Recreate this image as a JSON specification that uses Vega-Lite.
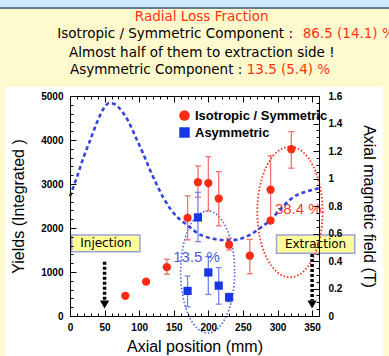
{
  "$schema": "https://vega.github.io/schema/vega-lite/v6.json",
  "width": 249,
  "height": 220,
  "autosize": {"type": "none"},
  "padding": {"left": 70, "top": 96, "right": 70, "bottom": 40},
  "background": "#fffacd",
  "config": {
    "view": {"stroke": null},
    "axis": {
      "domainColor": "#000", "tickColor": "#000", "labelColor": "#000", "titleColor": "#000",
      "labelFont": "Liberation Sans", "labelFontWeight": "bold", "labelFontSize": 10,
      "titleFont": "Liberation Sans", "titleFontWeight": "normal", "titleFontSize": 16,
      "grid": false, "tickWidth": 1, "domainWidth": 1
    }
  },
  "datasets": {
    "points": [
      {"comp": "Isotropic / Symmetric", "pos": 80, "yield": 460},
      {"comp": "Isotropic / Symmetric", "pos": 110, "yield": 780},
      {"comp": "Isotropic / Symmetric", "pos": 140, "yield": 1110, "lo": 950, "hi": 1290},
      {"comp": "Isotropic / Symmetric", "pos": 170, "yield": 2230, "lo": 1730, "hi": 2730},
      {"comp": "Isotropic / Symmetric", "pos": 185, "yield": 3040, "lo": 2700, "hi": 3410},
      {"comp": "Isotropic / Symmetric", "pos": 200, "yield": 3020, "lo": 2390, "hi": 3620},
      {"comp": "Isotropic / Symmetric", "pos": 215, "yield": 2670, "lo": 2050, "hi": 3280},
      {"comp": "Isotropic / Symmetric", "pos": 230, "yield": 1620, "lo": 1500, "hi": 1770},
      {"comp": "Isotropic / Symmetric", "pos": 260, "yield": 1370, "lo": 960, "hi": 1740},
      {"comp": "Isotropic / Symmetric", "pos": 290, "yield": 2170},
      {"comp": "Isotropic / Symmetric", "pos": 290, "yield": 2870, "lo": 2200, "hi": 3640},
      {"comp": "Isotropic / Symmetric", "pos": 320, "yield": 3790, "lo": 3360, "hi": 4190},
      {"comp": "Asymmetric", "pos": 170, "yield": 570, "lo": 210, "hi": 910},
      {"comp": "Asymmetric", "pos": 185, "yield": 2240, "lo": 1690, "hi": 2810},
      {"comp": "Asymmetric", "pos": 200, "yield": 990, "lo": 490, "hi": 1350},
      {"comp": "Asymmetric", "pos": 215, "yield": 690, "lo": 270, "hi": 1100},
      {"comp": "Asymmetric", "pos": 230, "yield": 425, "lo": 325, "hi": 515}
    ],
    "field": [
      {"pos": 0, "tesla": 0.87}, {"pos": 10, "tesla": 1.01}, {"pos": 20, "tesla": 1.16},
      {"pos": 30, "tesla": 1.29}, {"pos": 40, "tesla": 1.42}, {"pos": 50, "tesla": 1.52},
      {"pos": 57, "tesla": 1.55}, {"pos": 65, "tesla": 1.54}, {"pos": 75, "tesla": 1.49},
      {"pos": 85, "tesla": 1.41}, {"pos": 95, "tesla": 1.3}, {"pos": 105, "tesla": 1.19},
      {"pos": 115, "tesla": 1.07}, {"pos": 125, "tesla": 0.96}, {"pos": 135, "tesla": 0.86},
      {"pos": 145, "tesla": 0.78}, {"pos": 155, "tesla": 0.72}, {"pos": 170, "tesla": 0.66},
      {"pos": 185, "tesla": 0.6}, {"pos": 200, "tesla": 0.57}, {"pos": 215, "tesla": 0.555},
      {"pos": 230, "tesla": 0.55}, {"pos": 245, "tesla": 0.56}, {"pos": 260, "tesla": 0.59},
      {"pos": 275, "tesla": 0.64}, {"pos": 290, "tesla": 0.7}, {"pos": 305, "tesla": 0.78},
      {"pos": 318, "tesla": 0.845}, {"pos": 330, "tesla": 0.885}, {"pos": 342, "tesla": 0.905},
      {"pos": 360, "tesla": 0.93}
    ],
    "one": [{}]
  },
  "layer": [
    {
      "data": {"name": "one"},
      "layer": [
        {
          "mark": {"type": "rect", "fill": "#ffffff"},
          "encoding": {
            "x": {"datum": -94, "type": "quantitative", "scale": {"domain": [0, 360], "nice": false, "zero": false}, "axis": null},
            "x2": {"datum": 453},
            "y": {"datum": 5205, "type": "quantitative", "scale": {"domain": [0, 5000], "nice": false, "zero": false}, "axis": null},
            "y2": {"datum": -1300}
          }
        },
        {
          "mark": {"type": "rect", "fill": "#cde8fa"},
          "encoding": {
            "x": {"datum": -120, "type": "quantitative", "axis": null},
            "x2": {"datum": 480},
            "y": {"datum": 7023, "type": "quantitative", "axis": null},
            "y2": {"datum": 7500}
          }
        },
        {
          "mark": {"type": "rect", "fill": "#6b7888"},
          "encoding": {
            "x": {"datum": -120, "type": "quantitative", "axis": null},
            "x2": {"datum": 480},
            "y": {"datum": 6977, "type": "quantitative", "axis": null},
            "y2": {"datum": 7023}
          }
        },
        {
          "mark": {"type": "rect", "fill": "#ffff99", "stroke": "#9aa2dc", "strokeWidth": 1.5},
          "encoding": {
            "x": {"datum": 2.5, "type": "quantitative", "axis": null},
            "x2": {"datum": 101},
            "y": {"datum": 1461, "type": "quantitative", "axis": null},
            "y2": {"datum": 1841}
          }
        },
        {
          "mark": {"type": "rect", "fill": "#ffff99", "stroke": "#9aa2dc", "strokeWidth": 1.5},
          "encoding": {
            "x": {"datum": 298.6, "type": "quantitative", "axis": null},
            "x2": {"datum": 411.7},
            "y": {"datum": 1425, "type": "quantitative", "axis": null},
            "y2": {"datum": 1841}
          }
        },
        {
          "mark": {"type": "text", "font": "DejaVu Sans", "fontSize": 12, "color": "#000", "align": "center", "baseline": "middle"},
          "encoding": {
            "x": {"datum": 52, "type": "quantitative", "axis": null},
            "y": {"datum": 1655, "type": "quantitative", "axis": null},
            "text": {"value": "Injection"}
          }
        },
        {
          "mark": {"type": "text", "font": "DejaVu Sans", "fontSize": 12, "color": "#000", "align": "center", "baseline": "middle"},
          "encoding": {
            "x": {"datum": 355, "type": "quantitative", "axis": null},
            "y": {"datum": 1630, "type": "quantitative", "axis": null},
            "text": {"value": "Extraction"}
          }
        },
        {
          "mark": {"type": "point", "filled": false, "color": "#4a62e0", "strokeWidth": 1.6, "strokeDash": [1.5, 2], "opacity": 1, "size": 14884,
            "shape": "M 0.443 0 C 0.443 0.5523 0.2446 1 0 1 C -0.2446 1 -0.443 0.5523 -0.443 0 C -0.443 -0.5523 -0.2446 -1 0 -1 C 0.2446 -1 0.443 -0.5523 0.443 0 Z"},
          "encoding": {
            "x": {"datum": 199, "type": "quantitative", "axis": null},
            "y": {"datum": 1000, "type": "quantitative", "axis": null}
          }
        },
        {
          "mark": {"type": "point", "filled": false, "color": "#ff2a14", "strokeWidth": 1.8, "strokeDash": [1.5, 2], "opacity": 1, "size": 17056,
            "shape": "M 0.5 0 C 0.5 0.5523 0.2762 1 0 1 C -0.2762 1 -0.5 0.5523 -0.5 0 C -0.5 -0.5523 -0.2762 -1 0 -1 C 0.2762 -1 0.5 -0.5523 0.5 0 Z"},
          "encoding": {
            "x": {"datum": 318, "type": "quantitative", "axis": null},
            "y": {"datum": 2364, "type": "quantitative", "axis": null}
          }
        },
        {
          "data": {"name": "points"},
          "transform": [{"filter": "isValid(datum.lo) && datum.comp == 'Isotropic / Symmetric'"}],
          "mark": {"type": "rule", "strokeWidth": 1.3, "color": "#f27272"},
          "encoding": {
            "x": {"field": "pos", "type": "quantitative", "axis": null},
            "y": {"field": "lo", "type": "quantitative", "axis": null},
            "y2": {"field": "hi"}
          }
        },
        {
          "data": {"name": "points"},
          "transform": [{"filter": "isValid(datum.lo) && datum.comp == 'Isotropic / Symmetric'"}],
          "mark": {"type": "tick", "orient": "horizontal", "size": 6, "thickness": 1.3, "color": "#f27272", "opacity": 1},
          "encoding": {
            "x": {"field": "pos", "type": "quantitative", "axis": null},
            "y": {"field": "lo", "type": "quantitative", "axis": null}
          }
        },
        {
          "data": {"name": "points"},
          "transform": [{"filter": "isValid(datum.hi) && datum.comp == 'Isotropic / Symmetric'"}],
          "mark": {"type": "tick", "orient": "horizontal", "size": 6, "thickness": 1.3, "color": "#f27272", "opacity": 1},
          "encoding": {
            "x": {"field": "pos", "type": "quantitative", "axis": null},
            "y": {"field": "hi", "type": "quantitative", "axis": null}
          }
        },
        {
          "data": {"name": "points"},
          "transform": [{"filter": "isValid(datum.lo) && datum.comp == 'Asymmetric'"}],
          "mark": {"type": "rule", "strokeWidth": 1.3, "color": "#7486ec"},
          "encoding": {
            "x": {"field": "pos", "type": "quantitative", "axis": null},
            "y": {"field": "lo", "type": "quantitative", "axis": null},
            "y2": {"field": "hi"}
          }
        },
        {
          "data": {"name": "points"},
          "transform": [{"filter": "isValid(datum.lo) && datum.comp == 'Asymmetric'"}],
          "mark": {"type": "tick", "orient": "horizontal", "size": 6, "thickness": 1.3, "color": "#7486ec", "opacity": 1},
          "encoding": {
            "x": {"field": "pos", "type": "quantitative", "axis": null},
            "y": {"field": "lo", "type": "quantitative", "axis": null}
          }
        },
        {
          "data": {"name": "points"},
          "transform": [{"filter": "isValid(datum.hi) && datum.comp == 'Asymmetric'"}],
          "mark": {"type": "tick", "orient": "horizontal", "size": 6, "thickness": 1.3, "color": "#7486ec", "opacity": 1},
          "encoding": {
            "x": {"field": "pos", "type": "quantitative", "axis": null},
            "y": {"field": "hi", "type": "quantitative", "axis": null}
          }
        },
        {
          "mark": {"type": "text", "font": "Liberation Sans", "fontSize": 15, "color": "#4a5ad8", "align": "center", "baseline": "middle"},
          "encoding": {
            "x": {"datum": 183, "type": "quantitative", "axis": null},
            "y": {"datum": 1348, "type": "quantitative", "axis": null},
            "text": {"value": "13.5 %"}
          }
        },
        {
          "mark": {"type": "text", "font": "Liberation Sans", "fontSize": 15, "color": "#ff3a28", "align": "center", "baseline": "middle"},
          "encoding": {
            "x": {"datum": 330, "type": "quantitative", "axis": null},
            "y": {"datum": 2432, "type": "quantitative", "axis": null},
            "text": {"value": "38.4 %"}
          }
        },
        {
          "mark": {"type": "text", "font": "DejaVu Sans", "fontSize": 13.5, "color": "#ff3311", "align": "center", "baseline": "middle"},
          "encoding": {
            "x": {"datum": 190.4, "type": "quantitative", "axis": null},
            "y": {"datum": 6795, "type": "quantitative", "axis": null},
            "text": {"value": "Radial Loss Fraction"}
          }
        },
        {
          "mark": {"type": "text", "font": "DejaVu Sans", "fontSize": 13.5, "color": "#000", "align": "right", "baseline": "middle"},
          "encoding": {
            "x": {"datum": 322.4, "type": "quantitative", "axis": null},
            "y": {"datum": 6402, "type": "quantitative", "axis": null},
            "text": {"value": "Isotropic / Symmetric Component :"}
          }
        },
        {
          "mark": {"type": "text", "font": "DejaVu Sans", "fontSize": 13.5, "color": "#ff3311", "align": "left", "baseline": "middle"},
          "encoding": {
            "x": {"datum": 336.4, "type": "quantitative", "axis": null},
            "y": {"datum": 6402, "type": "quantitative", "axis": null},
            "text": {"value": "86.5 (14.1) %"}
          }
        },
        {
          "mark": {"type": "text", "font": "DejaVu Sans", "fontSize": 13.5, "color": "#000", "align": "center", "baseline": "middle"},
          "encoding": {
            "x": {"datum": 190.6, "type": "quantitative", "axis": null},
            "y": {"datum": 5970, "type": "quantitative", "axis": null},
            "text": {"value": "Almost half of them to extraction side !"}
          }
        },
        {
          "mark": {"type": "text", "font": "DejaVu Sans", "fontSize": 13.5, "color": "#000", "align": "right", "baseline": "middle"},
          "encoding": {
            "x": {"datum": 249.1, "type": "quantitative", "axis": null},
            "y": {"datum": 5591, "type": "quantitative", "axis": null},
            "text": {"value": "Asymmetric Component :"}
          }
        },
        {
          "mark": {"type": "text", "font": "DejaVu Sans", "fontSize": 13.5, "color": "#ff3311", "align": "left", "baseline": "middle"},
          "encoding": {
            "x": {"datum": 255.5, "type": "quantitative", "axis": null},
            "y": {"datum": 5591, "type": "quantitative", "axis": null},
            "text": {"value": "13.5 (5.4) %"}
          }
        }
      ]
    },
    {
      "data": {"name": "field"},
      "mark": {"type": "line", "color": "#3444e0", "strokeWidth": 2.6, "strokeDash": [4, 3], "interpolate": "monotone"},
      "encoding": {
        "x": {"field": "pos", "type": "quantitative",
          "scale": {"domain": [0, 360], "nice": false, "zero": false},
          "axis": {"orient": "top", "zindex": 1, "values": [0, 50, 100, 150, 200, 250, 300, 350], "tickSize": -6, "labels": false, "title": null}},
        "y": {"field": "tesla", "type": "quantitative",
          "scale": {"domain": [0, 1.6], "nice": false, "zero": false},
          "axis": {"orient": "right", "zindex": 1, "values": [0, 0.2, 0.4, 0.6, 0.8, 1, 1.2, 1.4, 1.6], "format": "~g", "tickSize": -6, "labelPadding": 15, "labelOverlap": false, "title": "Axial magnetic field (T)", "titlePadding": 19}}
      }
    },
    {
      "data": {"name": "points"},
      "mark": {"type": "point", "filled": true, "opacity": 1, "size": 68},
      "encoding": {
        "x": {"field": "pos", "type": "quantitative",
          "scale": {"domain": [0, 360], "nice": false, "zero": false},
          "axis": {"orient": "bottom", "zindex": 1, "values": [0, 50, 100, 150, 200, 250, 300, 350], "format": "d", "tickSize": -6, "labelPadding": 12, "labelFlush": false, "labelOverlap": false, "title": "Axial position (mm)", "titlePadding": 6}},
        "y": {"field": "yield", "type": "quantitative",
          "scale": {"domain": [0, 5000], "nice": false, "zero": false},
          "axis": {"orient": "left", "zindex": 1, "values": [0, 1000, 2000, 3000, 4000, 5000], "format": "d", "tickSize": -6, "labelPadding": 13, "labelOverlap": false, "title": "Yields (Integrated )", "titlePadding": 14}},
        "color": {"field": "comp", "type": "nominal",
          "scale": {"domain": ["Isotropic / Symmetric", "Asymmetric"], "range": ["#ff2a14", "#1836e6"]},
          "legend": {"orient": "none", "legendX": 108, "legendY": 13, "zindex": 2, "title": null, "padding": 0, "labelFont": "Liberation Sans", "labelFontWeight": "bold", "labelFontSize": 13, "labelColor": "#000", "symbolSize": 110, "rowPadding": 3, "labelOffset": 4}},
        "shape": {"field": "comp", "type": "nominal",
          "scale": {"domain": ["Isotropic / Symmetric", "Asymmetric"], "range": ["circle", "square"]},
          "legend": {"orient": "none", "legendX": 108, "legendY": 13, "zindex": 2, "title": null, "padding": 0, "labelFont": "Liberation Sans", "labelFontWeight": "bold", "labelFontSize": 13, "labelColor": "#000", "symbolSize": 110, "rowPadding": 3, "labelOffset": 4}}
      }
    },
    {
      "data": {"name": "one"},
      "mark": {"type": "rule", "color": "#000", "strokeWidth": 3.5, "strokeDash": [3, 2]},
      "encoding": {
        "x": {"datum": 50, "type": "quantitative",
          "scale": {"domain": [0, 360], "nice": false, "zero": false},
          "axis": {"orient": "bottom", "zindex": 1, "values": [0, 10, 20, 30, 40, 50, 60, 70, 80, 90, 100, 110, 120, 130, 140, 150, 160, 170, 180, 190, 200, 210, 220, 230, 240, 250, 260, 270, 280, 290, 300, 310, 320, 330, 340, 350, 360], "tickSize": -3, "labels": false, "domain": false, "title": null}},
        "y": {"datum": 1234, "type": "quantitative",
          "scale": {"domain": [0, 5000], "nice": false, "zero": false},
          "axis": {"orient": "left", "zindex": 1, "values": [0, 200, 400, 600, 800, 1000, 1200, 1400, 1600, 1800, 2000, 2200, 2400, 2600, 2800, 3000, 3200, 3400, 3600, 3800, 4000, 4200, 4400, 4600, 4800, 5000], "tickSize": -3, "labels": false, "domain": false, "title": null}},
        "y2": {"datum": 350}
      }
    },
    {
      "data": {"name": "one"},
      "layer": [
        {
          "mark": {"type": "rule", "color": "#000", "strokeWidth": 3.5, "strokeDash": [3, 2]},
          "encoding": {
            "x": {"datum": 350, "type": "quantitative", "scale": {"domain": [0, 360], "nice": false, "zero": false}, "axis": null},
            "y": {"datum": 1409, "type": "quantitative", "scale": {"domain": [0, 5000], "nice": false, "zero": false}, "axis": null},
            "y2": {"datum": 350}
          }
        },
        {
          "mark": {"type": "point", "shape": "triangle-down", "filled": true, "color": "#000", "opacity": 1, "size": 85},
          "encoding": {
            "x": {"datum": 50, "type": "quantitative", "axis": null},
            "y": {"datum": 261, "type": "quantitative", "axis": null}
          }
        },
        {
          "mark": {"type": "point", "shape": "triangle-down", "filled": true, "color": "#000", "opacity": 1, "size": 85},
          "encoding": {
            "x": {"datum": 350, "type": "quantitative", "axis": null},
            "y": {"datum": 261, "type": "quantitative", "axis": null}
          }
        }
      ]
    },
    {
      "data": {"name": "field"},
      "mark": {"type": "point", "opacity": 0},
      "encoding": {
        "x": {"field": "pos", "type": "quantitative",
          "scale": {"domain": [0, 360], "nice": false, "zero": false},
          "axis": {"orient": "top", "zindex": 1, "values": [0, 10, 20, 30, 40, 50, 60, 70, 80, 90, 100, 110, 120, 130, 140, 150, 160, 170, 180, 190, 200, 210, 220, 230, 240, 250, 260, 270, 280, 290, 300, 310, 320, 330, 340, 350, 360], "tickSize": -3, "labels": false, "domain": false, "title": null}},
        "y": {"field": "tesla", "type": "quantitative",
          "scale": {"domain": [0, 1.6], "nice": false, "zero": false},
          "axis": {"orient": "right", "zindex": 1, "values": [0, 0.05, 0.1, 0.15, 0.2, 0.25, 0.3, 0.35, 0.4, 0.45, 0.5, 0.55, 0.6, 0.65, 0.7, 0.75, 0.8, 0.85, 0.9, 0.95, 1, 1.05, 1.1, 1.15, 1.2, 1.25, 1.3, 1.35, 1.4, 1.45, 1.5, 1.55, 1.6], "tickSize": -3, "labels": false, "domain": false, "title": null}}
      }
    }
  ],
  "resolve": {"scale": {"y": "independent"}, "axis": {"x": "independent", "y": "independent"}}
}
